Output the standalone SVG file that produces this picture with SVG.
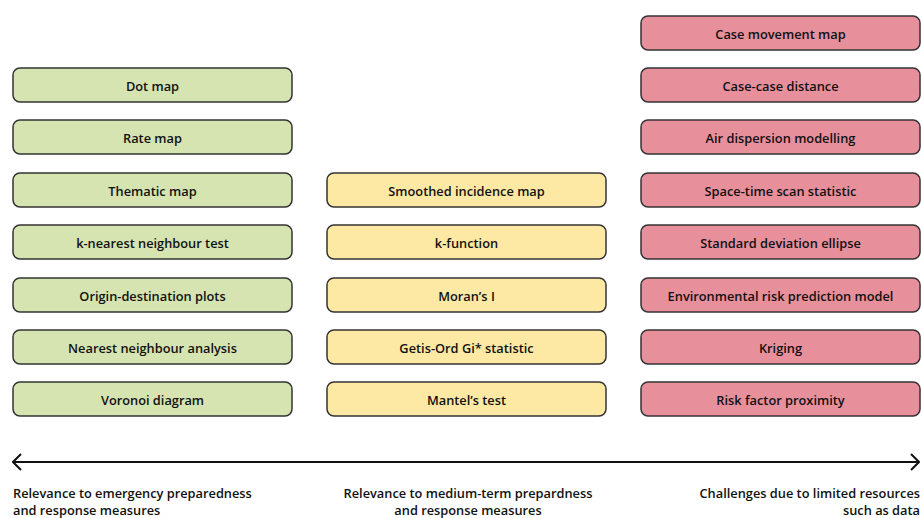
<svg xmlns="http://www.w3.org/2000/svg" width="922" height="518" viewBox="0 0 922 518">
<style>
.b{stroke:#333;stroke-width:1.5}
.g{fill:#d5e4b0}
.y{fill:#fde9a4}
.p{fill:#e88f9c}
text{font-family:"Open Sans","DejaVu Sans",sans-serif;font-weight:600;font-size:12.8px;fill:#111}
.c{text-anchor:middle}
</style>
<defs>
<marker id="ah" viewBox="0 0 10 18" refX="9" refY="9" markerWidth="10" markerHeight="18" markerUnits="userSpaceOnUse" orient="auto-start-reverse">
<path d="M1,1 L9,9 L1,17" fill="none" stroke="#111" stroke-width="2"/>
</marker>
</defs>
<rect width="922" height="518" fill="#fff"/>
<g id="left">
<g id="n-dot"><rect class="b g" x="13" y="68" width="279" height="34" rx="7"/><text class="c" x="152.5" y="90.5">Dot map</text></g>
<g id="n-rate"><rect class="b g" x="13" y="120" width="279" height="34" rx="7"/><text class="c" x="152.5" y="142.5">Rate map</text></g>
<g id="n-thematic"><rect class="b g" x="13" y="173" width="279" height="34" rx="7"/><text class="c" x="152.5" y="195.5">Thematic map</text></g>
<g id="n-knn"><rect class="b g" x="13" y="225" width="279" height="34" rx="7"/><text class="c" x="152.5" y="247.5">k-nearest neighbour test</text></g>
<g id="n-od"><rect class="b g" x="13" y="278" width="279" height="34" rx="7"/><text class="c" x="152.5" y="300.5">Origin-destination plots</text></g>
<g id="n-nna"><rect class="b g" x="13" y="330" width="279" height="34" rx="7"/><text class="c" x="152.5" y="352.5">Nearest neighbour analysis</text></g>
<g id="n-voronoi"><rect class="b g" x="13" y="382" width="279" height="34" rx="7"/><text class="c" x="152.5" y="404.5">Voronoi diagram</text></g>
</g>
<g id="middle">
<g id="n-smooth"><rect class="b y" x="327" y="173" width="279" height="34" rx="7"/><text class="c" x="466.5" y="195.5">Smoothed incidence map</text></g>
<g id="n-kfunc"><rect class="b y" x="327" y="225" width="279" height="34" rx="7"/><text class="c" x="466.5" y="247.5">k-function</text></g>
<g id="n-moran"><rect class="b y" x="327" y="278" width="279" height="34" rx="7"/><text class="c" x="466.5" y="300.5">Moran’s I</text></g>
<g id="n-getis"><rect class="b y" x="327" y="330" width="279" height="34" rx="7"/><text class="c" x="466.5" y="352.5">Getis-Ord Gi* statistic</text></g>
<g id="n-mantel"><rect class="b y" x="327" y="382" width="279" height="34" rx="7"/><text class="c" x="466.5" y="404.5">Mantel’s test</text></g>
</g>
<g id="right">
<g id="n-casemove"><rect class="b p" x="641" y="16" width="279" height="34" rx="7"/><text class="c" x="780.5" y="38.5">Case movement map</text></g>
<g id="n-casecase"><rect class="b p" x="641" y="68" width="279" height="34" rx="7"/><text class="c" x="780.5" y="90.5">Case-case distance</text></g>
<g id="n-air"><rect class="b p" x="641" y="120" width="279" height="34" rx="7"/><text class="c" x="780.5" y="142.5">Air dispersion modelling</text></g>
<g id="n-scan"><rect class="b p" x="641" y="173" width="279" height="34" rx="7"/><text class="c" x="780.5" y="195.5">Space-time scan statistic</text></g>
<g id="n-ellipse"><rect class="b p" x="641" y="225" width="279" height="34" rx="7"/><text class="c" x="780.5" y="247.5">Standard deviation ellipse</text></g>
<g id="n-env"><rect class="b p" x="641" y="278" width="279" height="34" rx="7"/><text class="c" x="780.5" y="300.5">Environmental risk prediction model</text></g>
<g id="n-kriging"><rect class="b p" x="641" y="330" width="279" height="34" rx="7"/><text class="c" x="780.5" y="352.5">Kriging</text></g>
<g id="n-riskfac"><rect class="b p" x="641" y="382" width="279" height="34" rx="7"/><text class="c" x="780.5" y="404.5">Risk factor proximity</text></g>
</g>
<g id="connectors">
<line x1="13" y1="462" x2="919" y2="462" stroke="#111" stroke-width="2" marker-start="url(#ah)" marker-end="url(#ah)"/>
</g>
<g id="labels">
<text x="13" y="498">Relevance to emergency preparedness</text>
<text x="13" y="515">and response measures</text>
<text class="c" x="468" y="498">Relevance to medium-term prepardness</text>
<text class="c" x="468" y="515">and response measures</text>
<text x="920" y="498" text-anchor="end">Challenges due to limited resources</text>
<text x="920" y="515" text-anchor="end">such as data</text>
</g>
</svg>
